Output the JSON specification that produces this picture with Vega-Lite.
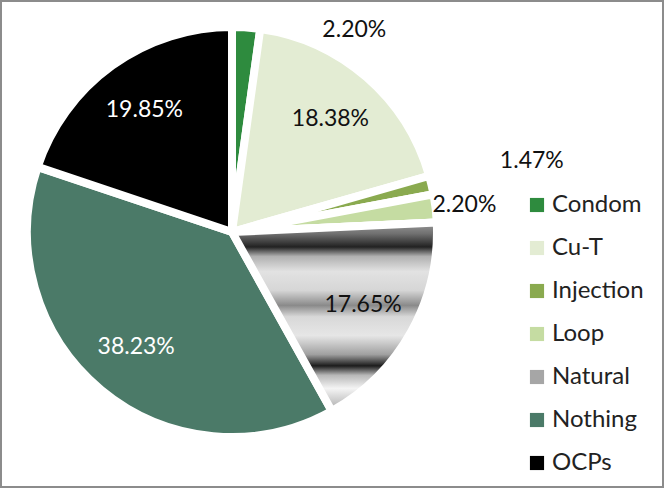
{
  "$schema": "https://vega.github.io/schema/vega-lite/v6.json",
  "width": 664,
  "height": 488,
  "autosize": "none",
  "padding": 0,
  "view": {"stroke": "#8c8c8c", "strokeWidth": 4, "fill": "white"},
  "config": {"view": {"stroke": "#8c8c8c", "strokeWidth": 4}, "font": "Lato"},
  "data": {
    "values": [
      {"idx": 1, "cat": "Condom", "value": 2.20, "label": "2.20%"},
      {"idx": 2, "cat": "Cu-T", "value": 18.38, "label": "18.38%"},
      {"idx": 3, "cat": "Injection", "value": 1.47, "label": "1.47%"},
      {"idx": 4, "cat": "Loop", "value": 2.20, "label": "2.20%"},
      {"idx": 5, "cat": "Natural", "value": 17.65, "label": "17.65%"},
      {"idx": 6, "cat": "Nothing", "value": 38.23, "label": "38.23%"},
      {"idx": 7, "cat": "OCPs", "value": 19.85, "label": "19.85%"}
    ]
  },
  "encoding": {
    "theta": {"field": "value", "type": "quantitative", "stack": true},
    "order": {"field": "idx", "type": "quantitative"}
  },
  "layer": [
    {
      "mark": {"type": "arc", "x": 232, "y": 232, "outerRadius": 205, "stroke": "white", "strokeWidth": 8},
      "encoding": {
        "color": {
          "field": "cat", "type": "nominal",
          "scale": {
            "domain": ["Condom", "Cu-T", "Injection", "Loop", "Natural", "Nothing", "OCPs"],
            "range": ["#2e8b3e", "#e3ecd3", "#8aaa4f", "#c5dca2", "#a6a6a6", "#4b7a68", "#000000"]
          },
          "legend": {
            "orient": "none", "legendX": 525, "legendY": 193, "title": null,
            "symbolType": "square", "symbolSize": 200, "symbolStrokeWidth": 0,
            "labelFontSize": 24, "labelColor": "#222222", "rowPadding": 19, "labelOffset": 3
          }
        }
      }
    },
    {
      "mark": {
        "type": "arc", "x": 232, "y": 232, "outerRadius": 205, "stroke": "white", "strokeWidth": 8,
        "fill": {
          "gradient": "linear", "x1": 0, "y1": 0, "x2": 0, "y2": 1,
          "stops": [
            {"offset": 0, "color": "#9a9a9a"},
            {"offset": 0.06, "color": "#707070"},
            {"offset": 0.13, "color": "#222222"},
            {"offset": 0.18, "color": "#b0b0b0"},
            {"offset": 0.26, "color": "#e2e2e2"},
            {"offset": 0.36, "color": "#d6d6d6"},
            {"offset": 0.44, "color": "#8a8a8a"},
            {"offset": 0.5, "color": "#d8d8d8"},
            {"offset": 0.6, "color": "#e6e6e6"},
            {"offset": 0.7, "color": "#a0a0a0"},
            {"offset": 0.76, "color": "#1c1c1c"},
            {"offset": 0.81, "color": "#b8b8b8"},
            {"offset": 0.88, "color": "#f4f4f4"},
            {"offset": 1, "color": "#a8a8a8"}
          ]
        }
      },
      "encoding": {
        "opacity": {"condition": {"test": "datum.cat === 'Natural'", "value": 1}, "value": 0}
      }
    },
    {
      "mark": {"type": "text", "x": 232, "y": 232, "radius": 150, "fontSize": 23},
      "encoding": {
        "text": {"field": "label"},
        "color": {"condition": {"test": "datum.cat === 'Nothing' || datum.cat === 'OCPs'", "value": "#ffffff"}, "value": "#111111"},
        "opacity": {"condition": {"test": "datum.value > 10", "value": 1}, "value": 0}
      }
    },
    {
      "mark": {"type": "text", "x": 232, "y": 232, "radius": 234, "fontSize": 23, "color": "#111111"},
      "encoding": {
        "text": {"field": "label"},
        "opacity": {"condition": {"test": "datum.cat === 'Loop'", "value": 1}, "value": 0}
      }
    },
    {
      "mark": {"type": "text", "x": 232, "y": 232, "radius": 308, "fontSize": 23, "color": "#111111"},
      "encoding": {
        "text": {"field": "label"},
        "opacity": {"condition": {"test": "datum.cat === 'Injection'", "value": 1}, "value": 0}
      }
    },
    {
      "mark": {"type": "text", "x": 232, "y": 232, "radius": 236, "dx": 106, "dy": 33, "fontSize": 23, "color": "#111111"},
      "encoding": {
        "text": {"field": "label"},
        "opacity": {"condition": {"test": "datum.cat === 'Condom'", "value": 1}, "value": 0}
      }
    }
  ]
}
